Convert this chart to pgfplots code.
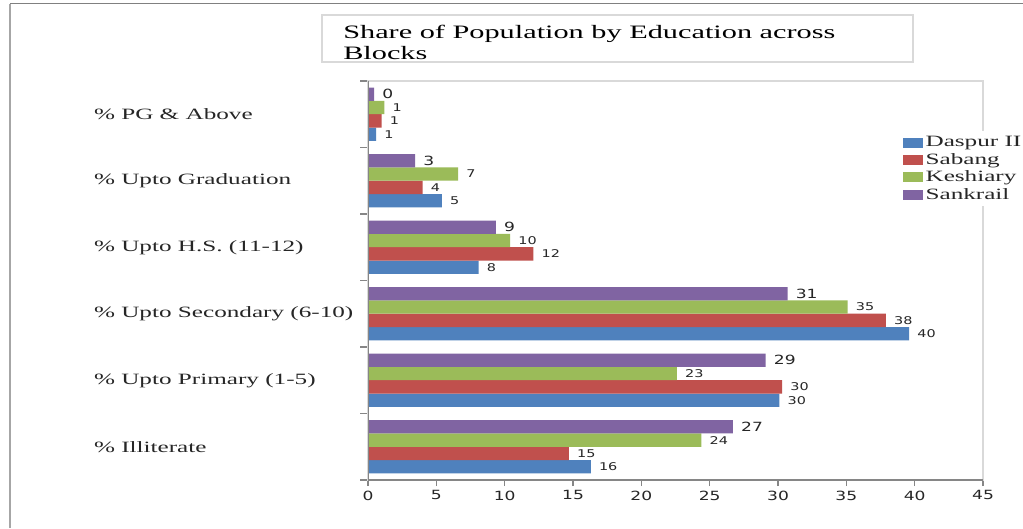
\documentclass[border=0pt]{standalone}
\usepackage{fontspec}
\setmainfont{Liberation Serif}[FakeStretch=1.6]
\newfontfamily\numfont{DejaVu Sans}[FakeStretch=1.35]
\usepackage{pgfplots}
\pgfplotsset{compat=1.18}
\definecolor{cBlue}{HTML}{4F81BD}
\definecolor{cRed}{HTML}{C0504D}
\definecolor{cGreen}{HTML}{9BBB59}
\definecolor{cPurple}{HTML}{8064A2}
\definecolor{axdark}{HTML}{868686}
\definecolor{axlight}{HTML}{D9D9D9}
\begin{document}
\begin{tikzpicture}
\path[use as bounding box, fill=white] (0,0) rectangle (767.25pt,396pt);
% outer frame
\draw[color=gray!70, line width=1.5pt] (7.5pt,0) -- (7.5pt,393pt);
\draw[color=gray, line width=0.75pt] (7.5pt,393pt) -- (767.25pt,393pt);
% title box
\draw[color=axlight, line width=1pt] (241.5pt,349.5pt) rectangle (684.75pt,384.75pt);
\node[anchor=base west, inner sep=0pt, font=\fontsize{14.2}{15}\selectfont] at (257.25pt,367pt) {Share of Population by Education across};
\node[anchor=base west, inner sep=0pt, font=\fontsize{14.2}{15}\selectfont] at (257.25pt,351.5pt) {Blocks};
\begin{axis}[
  at={(276pt,36pt)}, anchor=south west,
  scale only axis, width=461.25pt, height=299.25pt,
  xmin=0, xmax=45, ymin=-0.5, ymax=5.5,
  xbar, bar width=10pt,
  /pgf/number format/assume math mode=true,
  axis line style={draw=axlight, line width=0.8pt},
  tick align=outside, xtick pos=bottom, ytick pos=left,
  xtick={0,5,...,45},
  ytick={0,1,2,3,4,5},
  yticklabels={\% Illiterate, \% Upto Primary (1-5), \% Upto Secondary (6-10), \% Upto H.S. (11-12), \% Upto Graduation, \% PG \& Above},
  minor ytick={-0.5,0.5,...,5.5},
  major tick length=4.5pt, minor tick length=6pt,
  major x tick style={draw=axdark, line width=0.8pt},
  major y tick style={draw=none},
  minor y tick style={draw=axdark, line width=0.8pt},
  xticklabel style={font=\numfont\fontsize{9.5}{11}\selectfont, text=black!85},
  yticklabel style={anchor=west, xshift=-204.5pt, font=\fontsize{11.8}{13}\selectfont, text=black!85},
  point meta=x,
  nodes near coords={\pgfmathprintnumber[fixed,precision=0]{\pgfplotspointmeta}},
  every node near coord/.append style={anchor=west, xshift=5pt, inner sep=1pt, font=\numfont\fontsize{8}{9}\selectfont, text=black!85},
  legend style={at={(0.865,0.875)}, anchor=north west, draw=none, fill=white, font=\fontsize{11.8}{13}\selectfont, row sep=-0.6pt, cells={anchor=west}, inner sep=2pt, text=black!85},
  legend image code/.code={\path[#1, draw=none] (0pt,-3.75pt) rectangle (15pt,3.75pt);},
]
\addplot[fill=cBlue, draw=none, bar shift=-15pt] coordinates {(16.3,0) (30.1,1) (39.6,2) (8.1,3) (5.4,4) (0.6,5)};
\addlegendentry{Daspur II}
\addplot[fill=cRed, draw=none, bar shift=-5pt] coordinates {(14.7,0) (30.3,1) (37.9,2) (12.1,3) (4.0,4) (1.0,5)};
\addlegendentry{Sabang}
\addplot[fill=cGreen, draw=none, bar shift=5pt] coordinates {(24.4,0) (22.6,1) (35.1,2) (10.4,3) (6.6,4) (1.2,5)};
\addlegendentry{Keshiary}
\addplot[fill=cPurple, draw=none, bar shift=15pt, every node near coord/.append style={font=\numfont\fontsize{9.5}{10}\selectfont}] coordinates {(26.7,0) (29.1,1) (30.7,2) (9.35,3) (3.44,4) (0.44,5)};
\addlegendentry{Sankrail}
\draw[color=axdark, line width=0.8pt] (rel axis cs:0,1) -- (rel axis cs:0,0) -- (rel axis cs:1,0);
\end{axis}
\end{tikzpicture}
\end{document}
